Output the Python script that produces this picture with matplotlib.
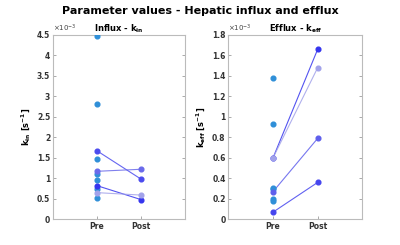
import matplotlib
matplotlib.use("Agg")
import matplotlib.pyplot as plt

plt.rcParams['font.family'] = ['DejaVu Sans']

scale_exp = -3
x_labels = ["Pre", "Post"]

# Influx k_in (x1e-3 s^-1)
kin_pre_unpaired = [4.48, 2.82, 1.47, 1.10, 0.97, 0.73, 0.53]
kin_pre_paired = [1.67, 1.17, 0.82, 0.65]
kin_post_paired = [0.98, 1.22, 0.48, 0.59]

# Efflux k_eff (x1e-3 s^-1)
keff_pre_unpaired = [1.38, 0.93, 0.31, 0.30, 0.20, 0.18]
keff_pre_paired = [0.60, 0.60, 0.27, 0.07]
keff_post_paired = [1.66, 1.48, 0.79, 0.36]

kin_colors = ["#4b4bee", "#6a6aea", "#3535ee", "#a2a2ea"]
keff_colors = ["#3535ee", "#a2a2ea", "#5f5fec", "#4545ee"]
unpaired_color = "#2f8fd8"

fig = plt.figure(figsize=(4, 2.45), dpi=100)
fig.suptitle("Parameter values - Hepatic influx and efflux", fontsize=8,
             fontweight='bold', y=0.975)

ax1 = fig.add_axes([0.1325, 0.105, 0.33, 0.753])
ax2 = fig.add_axes([0.571, 0.105, 0.335, 0.753])


def draw(ax, unp, pre, post, colors, ymax, ystep, title, ylabel):
    ax.plot([1] * len(unp), unp, 'o', color=unpaired_color, ms=3.4, mec=unpaired_color, zorder=3)
    for a, b, c in zip(pre, post, colors):
        ax.plot([1, 2], [a, b], '-', color=c, lw=0.8, alpha=0.85, zorder=2)
        ax.plot([1, 2], [a, b], 'o', color=c, ms=3.4, lw=0, zorder=4)
    ax.set_xlim(0, 3)
    ax.set_ylim(0, ymax)
    ax.set_xticks([1, 2])
    ax.set_xticklabels(x_labels, fontsize=5.5, fontweight='bold', color='#333333')
    n = int(round(ymax / ystep))
    ticks = [i * ystep for i in range(n + 1)]
    ax.set_yticks(ticks)
    ax.set_yticklabels([("%g" % round(t, 2)) for t in ticks], fontsize=5.5,
                       fontweight='bold', color='#333333')
    ax.tick_params(direction='in', length=2, width=0.5, color='#888888', pad=2,
                   right=True, top=False)
    for s in ax.spines.values():
        s.set_color('#bbbbbb')
        s.set_linewidth(0.8)
    ax.set_title(title, fontsize=6, fontweight='bold', pad=2)
    ax.set_ylabel(ylabel, fontsize=6, fontweight='bold', labelpad=3)
    ax.text(0.0, 1.005, r"$\times10^{%d}$" % scale_exp, transform=ax.transAxes,
            fontsize=5, ha='left', va='bottom', color='#444444')


draw(ax1, kin_pre_unpaired, kin_pre_paired, kin_post_paired, kin_colors, 4.5, 0.5,
     r"Influx - k$_{\mathbf{in}}$", r"k$_{\mathbf{in}}$ [s$^{\mathbf{-1}}$]")
draw(ax2, keff_pre_unpaired, keff_pre_paired, keff_post_paired, keff_colors, 1.8, 0.2,
     r"Efflux - k$_{\mathbf{eff}}$", r"k$_{\mathbf{eff}}$ [s$^{\mathbf{-1}}$]")

fig.savefig("out.png", dpi=100)
